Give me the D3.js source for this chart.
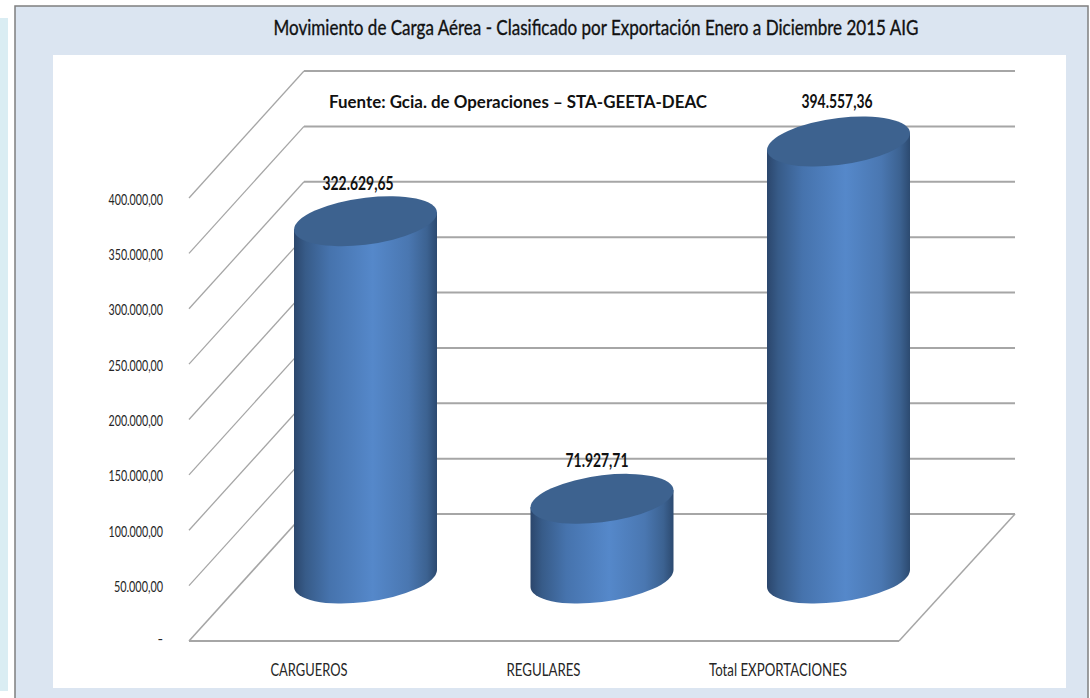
<!DOCTYPE html>
<html><head><meta charset="utf-8">
<script src="https://cdn.jsdelivr.net/npm/d3@7/dist/d3.min.js"></script>
<style>html,body{margin:0;padding:0;background:#fff;overflow:hidden}svg{display:block}text{font-family:Lato,"Open Sans",sans-serif}</style>
</head><body><svg id="c" width="1090" height="698"></svg>
<script>
const categories = ["CARGUEROS", "REGULARES", "Total EXPORTACIONES"];
const values = [322629.65, 71927.71, 394557.36];
const valueLabels = ["322.629,65", "71.927,71", "394.557,36"];
const tickValues = [0, 50000, 100000, 150000, 200000, 250000, 300000, 350000, 400000];
const tickLabels = ["-", "50.000,00", "100.000,00", "150.000,00", "200.000,00", "250.000,00", "300.000,00", "350.000,00", "400.000,00"];
const titleText = "Movimiento de Carga Aérea - Clasificado por Exportación Enero a Diciembre 2015 AIG";
const sourceText = "Fuente: Gcia. de Operaciones – STA-GEETA-DEAC";

const svg = d3.select("#c");
const defs = svg.append("defs");
const grad = defs.append("linearGradient").attr("id","cyl").attr("x1","0").attr("x2","1").attr("y1","0").attr("y2","0");
[[0,"#2b466c"],[0.08,"#375b88"],[0.25,"#4673ad"],[0.55,"#5588ca"],[0.8,"#4a77b1"],[0.93,"#3c6291"],[1,"#2c4a70"]]
  .forEach(s=>grad.append("stop").attr("offset",s[0]).attr("stop-color",s[1]));

// page frame
svg.append("rect").attr("x",0).attr("y",18).attr("width",8).attr("height",673).attr("fill","#daedf3");
svg.append("rect").attr("x",15).attr("y",6).attr("width",1073).attr("height",700).attr("fill","#dbe5f1").attr("stroke","#7f7f7f").attr("stroke-width",1.5);
svg.append("rect").attr("x",53).attr("y",55).attr("width",1013).attr("height",633).attr("fill","#fff");

// scales
const yFront = d3.scaleLinear().domain([0,400000]).range([641,198]);
const yBack  = d3.scaleLinear().domain([0,400000]).range([514,71]);
const height = d3.scaleLinear().domain([0,400000]).range([0,443]);
const xBar = d3.scalePoint().domain(categories).range([365.5,838.5]);
const xCat = d3.scalePoint().domain(categories).range([309,778]);
const xLeftFront=189, xLeftBack=304, xRightFront=899, xRightBack=1015;
const gridColor="#a6a6a6";

// walls and floor
const grid = svg.append("g");
grid.selectAll("line.b").data(tickValues).join("line").attr("class","b")
  .attr("x1",xLeftBack).attr("x2",xRightBack).attr("y1",d=>yBack(d)).attr("y2",d=>yBack(d))
  .attr("stroke",gridColor).attr("stroke-width",2);
grid.selectAll("line.d").data(tickValues).join("line").attr("class","d")
  .attr("x1",xLeftFront).attr("x2",xLeftBack).attr("y1",d=>yFront(d)).attr("y2",d=>yBack(d))
  .attr("stroke",gridColor).attr("stroke-width",d=>d===0?1.6:1.3);
grid.append("line").attr("x1",xLeftFront).attr("x2",xRightFront).attr("y1",yFront(0)).attr("y2",yFront(0)).attr("stroke",gridColor).attr("stroke-width",2);
grid.append("line").attr("x1",xRightFront).attr("x2",xRightBack).attr("y1",yFront(0)).attr("y2",yBack(0)).attr("stroke",gridColor).attr("stroke-width",1.5);

// tick labels
svg.append("g").selectAll("text").data(tickValues).join("text")
  .attr("x",163).attr("y",(d,i)=>yFront(d)+(i?6.5:3)).attr("text-anchor","end")
  .attr("font-size",15).attr("fill","#262626").attr("textLength",(d,i)=>i?tickLabels[i].length*5.45:null).attr("lengthAdjust","spacingAndGlyphs")
  .text((d,i)=>tickLabels[i]);

// cylinders
const rx=71.5, ry=23.5, shear=-8.5/71.5, baseY=578.5;
const bars = svg.append("g").selectAll("g").data(categories).join("g")
  .attr("transform",d=>`matrix(1,${shear},0,1,${xBar(d)},${baseY})`);
bars.append("path").attr("fill","url(#cyl)")
  .attr("d",(d,i)=>`M${-rx},${-height(values[i])}L${-rx},0A${rx},${ry} 0 0 0 ${rx},0L${rx},${-height(values[i])}Z`);
bars.append("ellipse").attr("cx",0).attr("cy",(d,i)=>-height(values[i])).attr("rx",rx).attr("ry",ry).attr("fill","#3d628f");

// value labels
const labelPos=[[358,190],[597,467],[837,108]];
svg.append("g").selectAll("text").data(valueLabels).join("text")
  .attr("x",(d,i)=>labelPos[i][0]).attr("y",(d,i)=>labelPos[i][1]).attr("text-anchor","middle")
  .attr("font-size",19).attr("font-weight",700).attr("fill","#111")
  .attr("textLength",(d,i)=>i===1?63:71).attr("lengthAdjust","spacingAndGlyphs").text(d=>d);

// category labels
svg.append("g").selectAll("text").data(categories).join("text")
  .attr("x",d=>xCat(d)).attr("y",676).attr("text-anchor","middle")
  .attr("font-size",18).attr("fill","#262626")
  .attr("textLength",(d,i)=>[77,74,138][i]).attr("lengthAdjust","spacingAndGlyphs").text(d=>d);

// title, source
svg.append("text").attr("x",596).attr("y",35).attr("text-anchor","middle").attr("font-size",21).attr("font-weight",400).attr("fill","#111")
  .attr("stroke","#111").attr("stroke-width",0.35)
  .attr("textLength",645).attr("lengthAdjust","spacingAndGlyphs").text(titleText);
svg.append("text").attr("x",329).attr("y",108).attr("font-size",16.5).attr("font-weight",700).attr("fill","#111")
  .attr("textLength",378).attr("lengthAdjust","spacingAndGlyphs").text(sourceText);
</script></body></html>
